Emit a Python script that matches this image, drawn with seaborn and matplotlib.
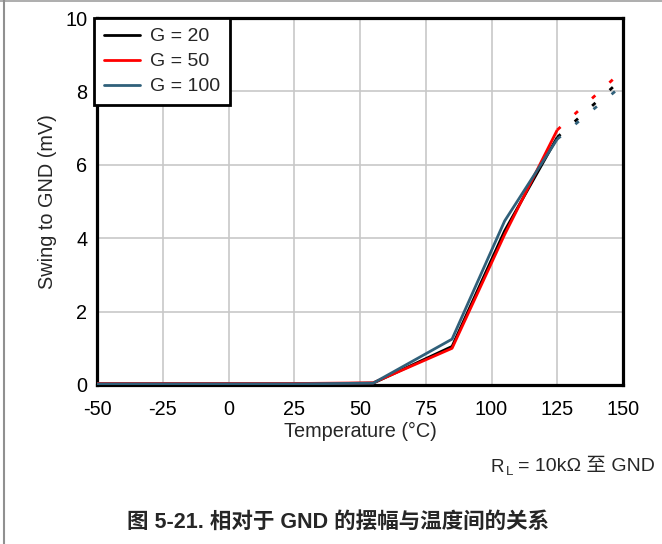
import matplotlib
matplotlib.use("Agg")
import matplotlib.pyplot as plt
from matplotlib.lines import Line2D
import seaborn as sns
import pandas as pd

# Measured swing to GND (mV) versus temperature (°C)
temps = [-50, 0, 25, 55, 85, 105, 125]
g20 = [0.03, 0.03, 0.03, 0.05, 1.05, 4.20, 6.75]
g50 = [0.04, 0.04, 0.04, 0.06, 1.00, 4.10, 6.95]
g100 = [0.03, 0.03, 0.03, 0.05, 1.25, 4.47, 6.70]

# Extrapolated region beyond 125 °C (dashed)
ext_temps = [125, 147]
ext_g20 = [6.75, 8.17]
ext_g50 = [6.95, 8.38]
ext_g100 = [6.70, 8.00]

series_names = ["G = 20", "G = 50", "G = 100"]
colors = ["#000000", "#FF0000", "#30607A"]

x_ticks = [-50, -25, 0, 25, 50, 75, 100, 125, 150]
y_ticks = [0, 2, 4, 6, 8, 10]

sns.set_theme(style="white")
plt.rcParams["font.family"] = ["Liberation Sans", "Noto Sans CJK SC", "DejaVu Sans"]

fig = plt.figure(figsize=(6.62, 5.44), dpi=100)
ax = fig.add_axes([97 / 662, 1 - 385 / 544, (623 - 97) / 662, (385 - 18) / 544])

measured = pd.DataFrame({"T": temps, "G = 20": g20, "G = 50": g50, "G = 100": g100})
extra = pd.DataFrame({"T": ext_temps, "G = 20": ext_g20, "G = 50": ext_g50, "G = 100": ext_g100})

for name, col in zip(series_names, colors):
    sns.lineplot(data=measured, x="T", y=name, color=col, lw=2.0, ax=ax,
                 solid_capstyle="butt", zorder=3)
    sns.lineplot(data=extra, x="T", y=name, color=col, lw=2.0, ax=ax,
                 linestyle=(0.0, (1.6, 6.85)), dash_capstyle="butt", zorder=3)

ax.set_xlim(-50, 150)
ax.set_ylim(0, 10)
ax.set_xticks(x_ticks)
ax.set_yticks(y_ticks)
ax.set_xticklabels([str(t) for t in x_ticks])
ax.set_yticklabels([str(t) for t in y_ticks])
ax.tick_params(axis="x", length=0, labelsize=14.3, pad=11, colors="black")
ax.tick_params(axis="y", length=0, labelsize=14.3, pad=7, colors="black")
ax.grid(True, color="#C8C8C8", lw=1.2)
for s in ax.spines.values():
    s.set_color("black")
    s.set_linewidth(2.3)
    s.set_visible(True)

ax.set_xlabel("Temperature (°C)", fontsize=14.3, labelpad=2)
ax.set_ylabel("Swing to GND (mV)", fontsize=14.3, labelpad=6)

handles = [Line2D([0], [0], color=c, lw=2.0) for c in colors]
leg = ax.legend(handles, series_names, loc="upper left", bbox_to_anchor=(-0.006, 1),
                borderaxespad=0, fancybox=False, frameon=True, fontsize=14,
                handlelength=1.85, handletextpad=0.55, borderpad=0.5,
                labelspacing=0.38)
leg.get_frame().set_edgecolor("black")
leg.get_frame().set_linewidth(2.0)
leg.get_frame().set_alpha(1)
leg.set_zorder(5)

# Load condition note: R with subscript L, then the rest of the line
note_y = 1 - 467 / 544
fig.text(655 / 662, note_y, "= 10kΩ 至 GND", ha="right", va="center", fontsize=14)
fig.text(490 / 662, note_y, "R", ha="left", va="center", fontsize=13.5)
fig.text(506 / 662, note_y - 5 / 544, "L", ha="left", va="center", fontsize=9.5)

fig.text(338 / 662, 1 - 522 / 544, "图 5-21. 相对于 GND 的摆幅与温度间的关系", ha="center",
         va="center", fontsize=15.5, fontweight="bold",
         family=["Liberation Sans", "Noto Sans CJK SC"])

# Page frame lines along the top and left edges
fig.add_artist(Line2D([0, 1], [1 - 0.5 / 544, 1 - 0.5 / 544], color="#A0A0A0", lw=1.2,
                      transform=fig.transFigure))
fig.add_artist(Line2D([3.5 / 662, 3.5 / 662], [0, 1], color="#909090", lw=1.5,
                      transform=fig.transFigure))

fig.savefig("out.png", dpi=100)
